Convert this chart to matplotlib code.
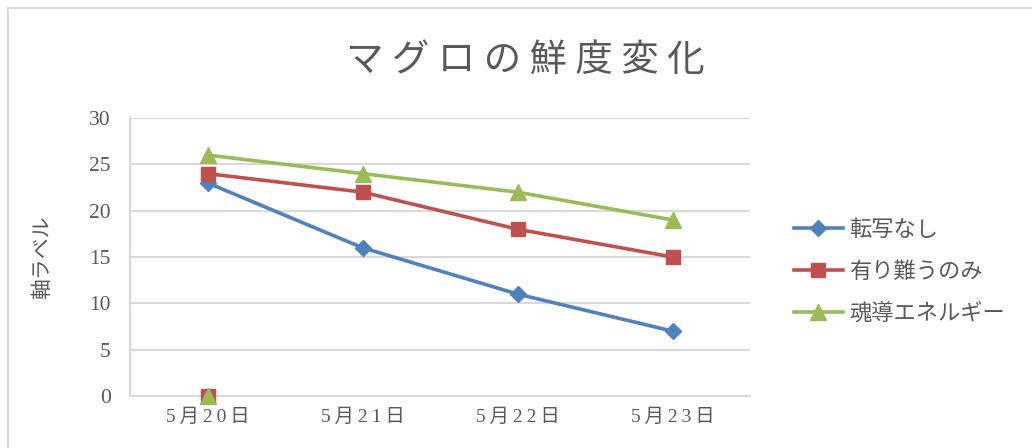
import matplotlib
matplotlib.use("Agg")
import matplotlib.pyplot as plt
from matplotlib.patches import Rectangle
from matplotlib.lines import Line2D

plt.rcParams['font.family'] = ['Liberation Serif', 'Noto Sans CJK JP', 'DejaVu Sans']

# data
dates = ['5月20日', '5月21日', '5月22日', '5月23日']
no_transfer = [23, 16, 11, 7]          # 転写なし
thanks_only = [24, 22, 18, 15]         # 有り難うのみ
soul_energy = [26, 24, 22, 19]         # 魂導エネルギー
# stray points sitting on zero at the first date
stray_dates = ['5月20日']
thanks_stray = [0]
soul_stray = [0]
yticks = [0, 5, 10, 15, 20, 25, 30]

blue = '#4F81BD'
red = '#C0504D'
green = '#9BBB59'
grey = '#595959'

fig = plt.figure(figsize=(10.32, 4.48), dpi=100)
# chart area border (only top/left visible)
fig.patches.append(Rectangle((8 / 1032, -0.1), 1.2, (448 - 8) / 448 + 0.1,
                             transform=fig.transFigure, fill=False,
                             edgecolor='#D9D9D9', lw=1.5, zorder=0))

ax = fig.add_axes([130 / 1032, 1 - 396 / 448, 620 / 1032, (396 - 118) / 448])
x = list(range(len(dates)))
pos = {d: i for i, d in enumerate(dates)}

ax.plot(x, no_transfer, color=blue, lw=2.6, marker='D', ms=8, label='転写なし',
        solid_capstyle='round', zorder=3)
ax.plot(x, thanks_only, color=red, lw=2.6, marker='s', ms=10, label='有り難うのみ',
        solid_capstyle='round', zorder=3)
ax.plot(x, soul_energy, color=green, lw=2.6, marker='^', ms=11, label='魂導エネルギー',
        solid_capstyle='round', zorder=3)
ax.plot([pos[d] for d in stray_dates], thanks_stray, ls='none', marker='s', ms=10,
        color=red, zorder=4, clip_on=False)
ax.plot([pos[d] for d in stray_dates], soul_stray, ls='none', marker='^', ms=11,
        color=green, zorder=5, clip_on=False)

ax.set_xlim(-0.5, len(dates) - 0.5)
ax.set_ylim(0, 30)
ax.set_yticks(yticks)
ax.set_xticks(x)
# the original spreads the date characters out a little
ax.set_xticklabels(['\u2009'.join(d) for d in dates], fontsize=14, color=grey)
ax.tick_params(axis='both', length=0, colors=grey)
ax.tick_params(axis='y', labelsize=15.5, pad=14)
ax.tick_params(axis='x', pad=9)
ax.grid(axis='y', color='#D9D9D9', lw=1.5)
ax.set_axisbelow(True)
for s in ['top', 'right']:
    ax.spines[s].set_visible(False)
for s in ['left', 'bottom']:
    ax.spines[s].set_color('#D9D9D9')
    ax.spines[s].set_linewidth(1.5)

ax.set_ylabel('軸ラベル', fontsize=15, color=grey, labelpad=26,
              family=['Noto Sans CJK JP'])

fig.text(525 / 1032, 1 - 60 / 448, 'マ グ ロ の 鮮 度 変 化', ha='center', va='center',
         fontsize=27, color=grey, family=['Noto Sans CJK JP'])

handles = [
    Line2D([], [], color=blue, lw=2.6, marker='D', ms=8),
    Line2D([], [], color=red, lw=2.6, marker='s', ms=10),
    Line2D([], [], color=green, lw=2.6, marker='^', ms=11),
]
fig.legend(handles, ['転写なし', '有り難うのみ', '魂導エネルギー'],
           loc='center left', bbox_to_anchor=(774 / 1032, 1 - 271 / 448),
           frameon=False, handlelength=2.2, labelspacing=0.85,
           handletextpad=0.3, labelcolor=grey,
           prop={'family': ['Noto Sans CJK JP'], 'size': 16})

fig.savefig('out.png', dpi=100)
